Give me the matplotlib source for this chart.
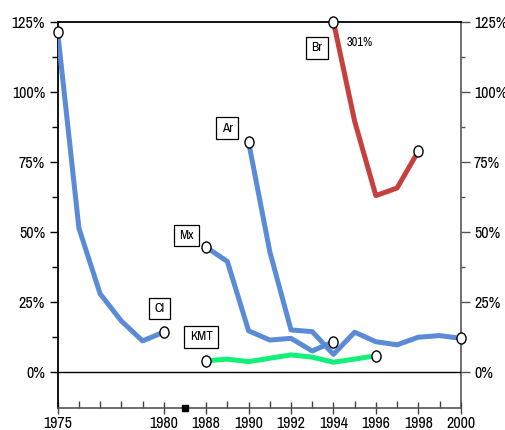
import numpy as np
import matplotlib
matplotlib.use("Agg")
import matplotlib.pyplot as plt
from matplotlib.path import Path
from matplotlib.transforms import Affine2D

plt.rcParams['font.family'] = ['Archivo Narrow', 'Liberation Sans', 'DejaVu Sans']

# values (percent)
cl_years = [1975, 1976, 1977, 1978, 1979, 1980]
cl_vals = [121.2, 51.4, 28.0, 18.3, 11.2, 14.3]

mx_years = [1988, 1989, 1990, 1991, 1992, 1993, 1994]
mx_vals = [44.6, 39.5, 14.8, 11.5, 12.1, 7.6, 10.9]

ar_years = [1990, 1991, 1992, 1993, 1994, 1995, 1996, 1997, 1998, 1999, 2000]
ar_vals = [82.1, 43.0, 15.1, 14.5, 6.4, 14.3, 10.9, 9.8, 12.5, 13.1, 12.1]

kmt_years = [1988, 1989, 1990, 1991, 1992, 1993, 1994, 1995, 1996]
kmt_vals = [4.1, 4.7, 3.8, 5.0, 6.2, 5.4, 3.6, 4.7, 5.9]

br_years = [1994, 1995, 1996, 1997, 1998]
br_vals = [301.0, 89.5, 63.0, 65.7, 78.8]   # 1994 value off the scale

tick_years = [1975, 1980, 1988, 1990, 1992, 1994, 1996, 1998, 2000]
minor_years = [1976, 1977, 1978, 1979, 1989, 1991, 1993, 1995, 1997, 1999]

YMAX = 125


def pos(years):
    # axis is broken between 1980 and 1988
    y = np.asarray(years, dtype=float)
    return np.where(y <= 1980, y - 1975, y - 1981)


# slightly tall ellipse for the end markers
ell = Path(Affine2D().scale(0.82, 1.0).transform(Path.unit_circle().vertices),
           Path.unit_circle().codes)

blue = '#5b8bd6'
red = '#c6403e'
green = '#12f07a'

fig = plt.figure(figsize=(5.06, 4.30), dpi=100)
ax = fig.add_axes([0.114, 0.052, 0.7965, 0.8975])


def draw(years, vals, color):
    x = pos(years)
    v = np.minimum(vals, YMAX)
    ax.plot(x, v, color=color, lw=3.6, solid_capstyle='butt', zorder=3)
    ax.plot([x[0], x[-1]], [v[0], v[-1]], ls='none', marker=ell, ms=8,
            mfc='white', mec='black', mew=1.0, zorder=4, clip_on=False)


draw(cl_years, cl_vals, blue)
draw(mx_years, mx_vals, blue)
draw(ar_years, ar_vals, blue)
draw(kmt_years, kmt_vals, green)
draw(br_years, br_vals, red)

ax.axhline(0, color='black', lw=1.0, zorder=2)

box = dict(boxstyle='square,pad=0.4', fc='white', ec='black', lw=0.9)
for txt, x, y in [('Cl', 4.80, 22.8), ('Mx', 6.08, 48.7), ('KMT', 6.76, 12.6),
                  ('Ar', 7.99, 87.1), ('Br', 12.22, 115.7)]:
    ax.text(x, y, txt, ha='center', va='center', fontsize=9.5, bbox=box, zorder=5)
ax.text(14.25, 117.7, '%d%%' % br_vals[0], ha='center', va='center', fontsize=9)

ax.set_xlim(0, 19)
ax.set_ylim(-12.6, YMAX)

ax.set_xticks(pos(tick_years))
ax.set_xticklabels([str(y) for y in tick_years])
ax.set_xticks(pos(minor_years), minor=True)
ax.plot([6], [-12.6], marker='s', ms=4.5, color='black', clip_on=False, zorder=6)

yt = np.arange(0, 126, 25)
ax.set_yticks(yt)
ax.set_yticklabels(['%d%%' % v for v in yt])
ax.set_yticks(np.arange(12.5, 125, 25), minor=True)

ax.tick_params(axis='y', which='major', direction='out', length=5.8, width=1.0,
               pad=3.2, labelsize=11.5, left=True, right=False)
ax.tick_params(axis='y', which='minor', direction='out', length=4.3, width=1.0,
               left=True, right=False)
ax.tick_params(axis='x', which='major', direction='inout', length=8.6, width=1.0,
               pad=1.5, labelsize=11.5, colors='#444444', labelcolor='black')
ax.tick_params(axis='x', which='minor', direction='in', length=5.0, width=1.0,
               colors='#444444')

sec = ax.secondary_yaxis('right')
sec.set_yticks(yt)
sec.set_yticklabels(['%d%%' % v for v in yt])
sec.set_yticks(np.arange(12.5, 125, 25), minor=True)
sec.tick_params(which='major', direction='out', length=6.5, width=1.0, pad=3.0,
                labelsize=11.5, colors='#555555', labelcolor='black')
sec.tick_params(which='minor', direction='out', length=2.9, width=1.0, colors='#555555')
sec.spines['right'].set_color('#555555')
sec.spines['right'].set_linewidth(1.2)

ax.spines['right'].set_visible(False)
ax.spines['left'].set_linewidth(1.3)
ax.spines['top'].set_linewidth(1.3)
ax.spines['bottom'].set_color('#555555')
ax.spines['bottom'].set_linewidth(1.2)

fig.savefig('out.png', dpi=100)
